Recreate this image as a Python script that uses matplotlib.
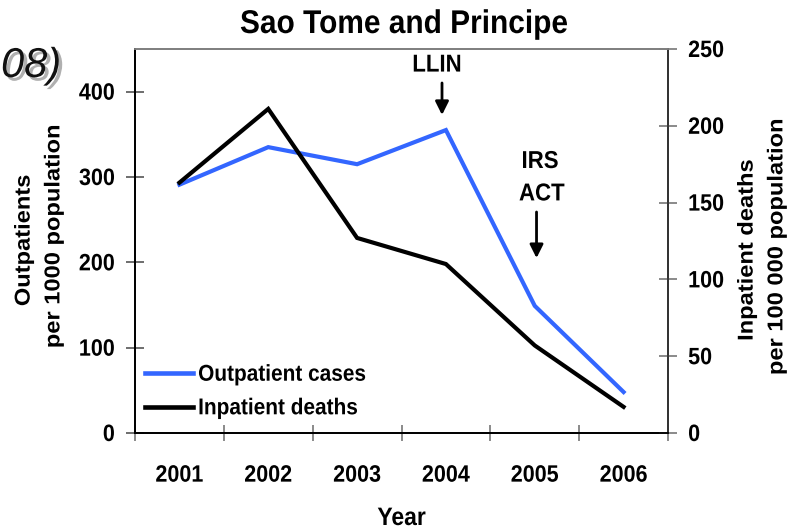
import matplotlib
matplotlib.use("Agg")
import matplotlib.pyplot as plt
import matplotlib.patheffects as pe
from matplotlib.transforms import Affine2D
import numpy as np

plt.rcParams['font.family'] = ['Liberation Sans', 'DejaVu Sans']
plt.rcParams['font.weight'] = 'bold'

# Data
years = ['2001', '2002', '2003', '2004', '2005', '2006']
outpatients = [291, 335, 315, 355, 149, 48]        # per 1000 population (left axis)
inpatient_deaths = [163, 211, 127, 110, 57, 17]    # per 100 000 population (right axis)
left_ticks = [0, 100, 200, 300, 400]
right_ticks = [0, 50, 100, 150, 200, 250]
series_labels = ['Outpatient cases', 'Inpatient deaths']

BLUE = '#3366FF'
W, H = 789, 529


class Stretch(pe.AbstractPathEffect):
    """Draw glyphs scaled in their own frame (sx along the baseline, sy across it)."""

    def __init__(self, sx=1.0, sy=1.0):
        super().__init__()
        self.sx, self.sy = sx, sy

    def draw_path(self, renderer, gc, tpath, affine, rgbFace=None):
        renderer.draw_path(gc, tpath, Affine2D().scale(self.sx, self.sy) + affine, rgbFace)


TALL = [Stretch(1.0, 1.1)]
LONG = [Stretch(1.1, 1.0)]

fig = plt.figure(figsize=(W / 100, H / 100), dpi=100)

# axes box in pixels: left 135, right 668, top 49, bottom 433
ax = fig.add_axes([135 / W, (H - 433) / H, (668 - 135) / W, (433 - 49) / H])
ax2 = ax.twinx()

x = np.arange(1, len(years) + 1)
l1, = ax.plot(x, outpatients, color=BLUE, lw=3.0, solid_joinstyle='miter', zorder=3)
l2, = ax2.plot(x, inpatient_deaths, color='black', lw=3.0, solid_joinstyle='miter', zorder=3)

ax.set_xlim(0.5, len(years) + 0.5)
ax.set_ylim(0, 450)
ax2.set_ylim(0, 250)
ax.set_yticks(left_ticks)
ax2.set_yticks(right_ticks)

# category boundaries carry the tick marks, centres carry the labels
ax.set_xticks(np.arange(0.5, len(years) + 1, 1.0))
ax.set_xticklabels([])
ax.set_xticks(x, minor=True)
ax.set_xticklabels(years, minor=True)
ax.tick_params(axis='x', which='major', direction='inout', length=12, width=1.2, color='#777777')
ax.tick_params(axis='x', which='minor', length=0, pad=23.5, labelsize=15.5)
ax.tick_params(axis='y', direction='inout', length=13, width=1.2, color='#555555', pad=8, labelsize=15.5)
ax2.tick_params(axis='y', direction='inout', length=13, width=1.2, color='#777777', pad=8, labelsize=15.5)

for lab in (ax.get_xticklabels(minor=True) + ax.get_yticklabels() + ax2.get_yticklabels()):
    lab.set_path_effects(TALL)

for a in (ax, ax2):
    a.spines['left'].set_color('black')
    a.spines['bottom'].set_color('black')
    a.spines['top'].set_color('#808080')
    a.spines['right'].set_color('#333333')
    for s in a.spines.values():
        s.set_linewidth(1.3)

ax.set_ylabel('Outpatients\nper 1000 population', fontsize=15.5, fontweight='bold', linespacing=1.55)
ax.yaxis.label.set(ha='center', va='center', path_effects=LONG)
ax.yaxis.set_label_coords((39 - 135) / 533, 0.486)
ax2.set_ylabel('Inpatient deaths\nper 100 000 population', fontsize=15.5, fontweight='bold',
               linespacing=1.55, rotation=90)
ax2.yaxis.label.set(ha='center', va='center', path_effects=LONG)
ax2.yaxis.set_label_coords((762 - 135) / 533, 0.455)

fig.text(404 / W, (H - 33) / H, 'Sao Tome and Principe', ha='center', va='baseline',
         fontsize=21.5, fontweight='bold', path_effects=TALL)
fig.text(401.5 / W, (H - 525) / H, 'Year', ha='center', va='baseline',
         fontsize=16.5, fontweight='bold', path_effects=TALL)

# intervention markers
arrow = dict(arrowstyle='-|>', color='black', lw=2, mutation_scale=20, shrinkA=0, shrinkB=0)
ax.annotate('', xy=(3.956, 372.7), xytext=(3.956, 410.2), arrowprops=arrow)
ax.text(3.90, 430, 'LLIN', ha='center', va='center', fontsize=16, fontweight='bold', path_effects=TALL)
ax.annotate('', xy=(5.02, 205), xytext=(5.02, 259), arrowprops=arrow)
ax.text(5.06, 317, 'IRS', ha='center', va='center', fontsize=16, fontweight='bold', path_effects=TALL)
ax.text(5.08, 279, 'ACT', ha='center', va='center', fontsize=16, fontweight='bold', path_effects=TALL)

leg = ax.legend([l1, l2], series_labels, loc='center left',
                bbox_to_anchor=((145 - 135) / 533, (433 - 392) / 384),
                frameon=False, fontsize=15, borderpad=0, borderaxespad=0,
                handlelength=2.3, handletextpad=0.25, labelspacing=0.7)
for t in leg.get_texts():
    t.set_fontweight('bold')
    t.set_path_effects(TALL)
for h in leg.legend_handles:
    h.set_linewidth(3.3)
ax2.set_zorder(ax.get_zorder() + 1)
ax2.patch.set_visible(False)

# fragment of the slide heading at the top-left corner
fig.text(1 / W, (H - 77) / H, '08)', ha='left', va='baseline', fontsize=30,
         style='italic', fontweight='normal', color='#111111',
         family=['Liberation Sans Narrow', 'Liberation Sans'],
         path_effects=[pe.SimplePatchShadow(offset=(2.5, -2.5), shadow_rgbFace='#b0b0b0', alpha=1),
                       pe.Normal()])

fig.savefig('out.png', dpi=100)
